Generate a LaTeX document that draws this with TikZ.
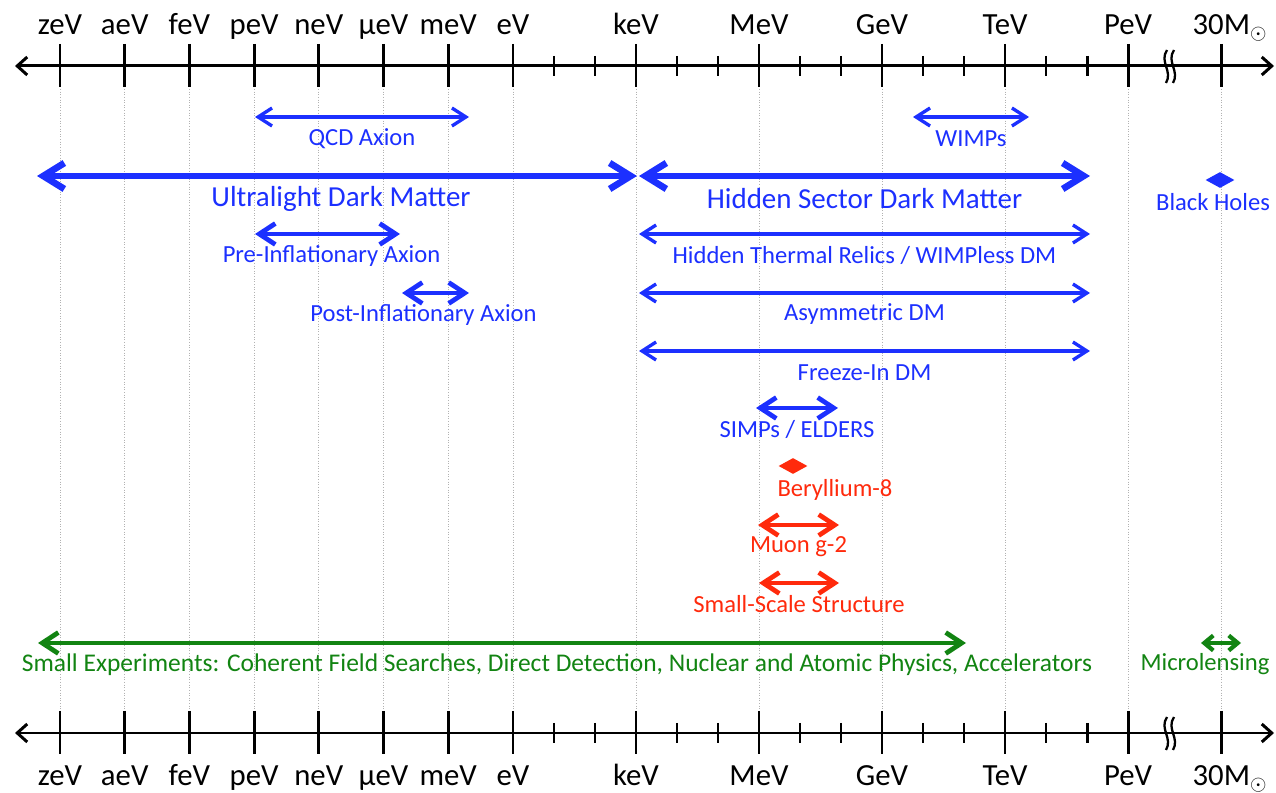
\documentclass[tikz,border=0pt]{standalone}
\usepackage{fontspec}
\setmainfont{Carlito}
\usepackage{tikz}
\usetikzlibrary{arrows.meta, shapes.geometric}
\definecolor{dmblue}{RGB}{28,48,255}
\definecolor{dmred}{RGB}{255,42,12}
\definecolor{dmgreen}{RGB}{18,132,18}
\tikzstyle{massaxis}=[draw, line width=1.7pt, {Straight Barb[length=0.2cm,width=0.36cm]}-{Straight Barb[length=0.2cm,width=0.36cm]}]
\tikzstyle{masstick}=[draw, line width=1.7pt]
\tikzstyle{gridline}=[draw, black!30, densely dotted, line width=0.5pt]
\tikzstyle{thinspan}=[draw, line width=1.9pt, {Straight Barb[length=0.28cm,width=0.36cm]}-{Straight Barb[length=0.28cm,width=0.36cm]}]
\tikzstyle{midspan}=[draw, line width=2.7pt, {Straight Barb[length=0.32cm,width=0.42cm]}-{Straight Barb[length=0.32cm,width=0.42cm]}]
\tikzstyle{widespan}=[draw, line width=3.8pt, {Straight Barb[length=0.42cm,width=0.52cm]}-{Straight Barb[length=0.42cm,width=0.52cm]}]
\tikzstyle{shortspan}=[draw, line width=2.4pt, {Straight Barb[length=0.18cm,width=0.3cm]}-{Straight Barb[length=0.18cm,width=0.3cm]}]
\tikzstyle{energy}=[font=\fontsize{17.5}{20}\selectfont, inner sep=0pt, anchor=base]
\tikzstyle{tag}=[font=\fontsize{14}{16}\selectfont, inner sep=0pt, yshift=-0.43cm]
\tikzstyle{bigtag}=[font=\fontsize{16.5}{19}\selectfont, inner sep=0pt, yshift=-0.45cm]
\tikzstyle{spot}=[shape=diamond, inner sep=0pt, minimum width=0.58cm, minimum height=0.32cm]

\begin{document}
\begin{tikzpicture}[x=0.02cm, y=-0.02cm]
		\useasboundingbox (0,0) rectangle (1276,793);
		\fill[white] (0,0) rectangle (1276,793);
		\foreach \x in {60,124.7,189.4,254.1,318.8,383.5,448.2,513,636,759,882,1005,1128,1221}
			\draw[gridline] (\x,89) -- (\x,711);
		\foreach \y in {66,733} {
			\draw[massaxis] (15,\y) -- (1274,\y);
			\foreach \x in {60,124.7,189.4,254.1,318.8,383.5,448.2,513,636,759,882,1005,1128,1221}
				\draw[masstick] (\x,\y-22) -- (\x,\y+21);
			\foreach \x in {554,595,677,718,800,841,923,964,1046,1087}
				\draw[masstick] (\x,\y-10) -- (\x,\y+10);
			\draw[line width=1.3pt] (1167,\y-16) .. controls (1159,\y-4) and (1173,\y+5) .. (1166,\y+17);
			\draw[line width=1.3pt] (1174,\y-16) .. controls (1166,\y-4) and (1180,\y+5) .. (1173,\y+17);
		}
		\foreach \x/\t/\n in {60/zeV/ze,124.7/aeV/ae,189.4/feV/fe,254.1/peV/pe,318.8/neV/ne,383.5/μeV/mu,448.2/meV/me,513/eV/e,636/keV/k,759/MeV/M,882/GeV/G,1005/TeV/T,1128/PeV/P} {
			\node[energy] (top\n) at (\x,35) {\t};
			\node[energy] (bot\n) at (\x,786) {\t};
		}
		\node[energy] (topsun) at (1230,35) {30M$_{\odot}$};
		\node[energy] (botsun) at (1230,786) {30M$_{\odot}$};

		\draw[thinspan, dmblue] (255,117) -- node[tag, dmblue] (qcd) {QCD Axion} (469,117);
		\draw[thinspan, dmblue] (913,117) -- node[tag, dmblue] (wimp) {WIMPs} (1029,117);
		\draw[widespan, dmblue] (37,176) -- node[bigtag, dmblue, xshift=0.08cm] (uldm) {Ultralight Dark Matter} (637,176);
		\draw[widespan, dmblue] (639,176) -- node[bigtag, dmblue] (hsdm) {Hidden Sector Dark Matter} (1090,176);
		\node[spot, fill=dmblue] (bh) at (1220,180) {};
		\node[font=\fontsize{14}{16}\selectfont, inner sep=0pt, dmblue] (bhtext) at (1213,202) {Black Holes};
		\draw[midspan, dmblue] (255,234) -- node[tag, dmblue, xshift=0.08cm] (pre) {Pre-Inflationary Axion} (400,234);
		\draw[thinspan, dmblue] (639,234) -- node[tag, dmblue] (htr) {Hidden Thermal Relics / WIMPless DM} (1090,234);
		\draw[midspan, dmblue] (402,293) -- node[tag, dmblue, xshift=-0.24cm] (post) {Post-Inflationary Axion} (469,293);
		\draw[thinspan, dmblue] (639,293) -- node[tag, dmblue] (adm) {Asymmetric DM} (1090,293);
		\draw[thinspan, dmblue] (639,351) -- node[tag, dmblue] (fidm) {Freeze-In DM} (1090,351);
		\draw[midspan, dmblue] (756,408) -- node[tag, dmblue] (simp) {SIMPs / ELDERS} (838,408);
		\node[spot, fill=dmred] (be) at (793,466) {};
		\node[font=\fontsize{14}{16}\selectfont, inner sep=0pt, dmred] (betext) at (835,490) {Beryllium-8};
		\draw[midspan, dmred] (758,525) -- node[tag, dmred] (muon) {Muon g-2} (839,525);
		\draw[midspan, dmred] (759,583) -- node[tag, dmred] (sss) {Small-Scale Structure} (839,583);
		\draw[midspan, dmgreen] (38,643) -- node[tag, dmgreen, xshift=1.1cm, font=\fontsize{14.5}{16}\selectfont] (smallexp) {Small Experiments: Coherent Field Searches, Direct Detection, Nuclear and Atomic Physics, Accelerators} (966,643);
		\draw[shortspan, dmgreen] (1201,643) -- node[tag, dmgreen, xshift=-0.32cm] (micro) {Microlensing} (1241,643);
	\end{tikzpicture}
\end{document}
